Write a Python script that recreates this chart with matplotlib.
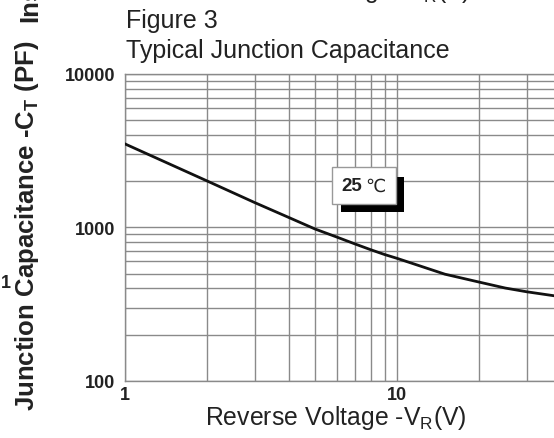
import matplotlib
matplotlib.use("Agg")
import matplotlib.pyplot as plt
import matplotlib.patches as mpatches
from matplotlib.ticker import FixedLocator, NullFormatter

plt.rcParams["font.family"] = ["Liberation Sans", "DejaVu Sans"]

# data
voltage = [1, 2, 3, 4, 5, 6, 7, 8, 9, 10, 15, 20, 25, 30, 37.8]
capacitance = [3500, 2010, 1450, 1160, 975, 865, 780, 715, 665, 628, 495, 440, 402, 380, 358]

x_ticks = [1, 10]
x_tick_labels = ["1", "10"]
y_ticks = [100, 1000, 10000]
y_tick_labels = ["100", "1000", "10000"]

W, H = 554, 439
fig = plt.figure(figsize=(W / 100, H / 100), dpi=100)


def fx(px):
    return px / W


def fy(py):
    return 1 - py / H


ax = fig.add_axes([fx(125), fy(381.7), 1 - fx(125), fy(75) - fy(381.7)])
ax.set_xscale("log")
ax.set_yscale("log")
ax.set_xlim(1, 10 ** ((W - 125) / 272))
ax.set_ylim(100, 10000)

ax.plot(voltage, capacitance, color="#111111", linewidth=2.0, zorder=3)

ax.grid(True, which="both", color="#8a8a8a", linewidth=1.0)
ax.xaxis.set_major_locator(FixedLocator(x_ticks))
ax.yaxis.set_major_locator(FixedLocator(y_ticks))
ax.set_xticklabels(x_tick_labels)
ax.set_yticklabels(y_tick_labels)
ax.xaxis.set_minor_formatter(NullFormatter())
ax.yaxis.set_minor_formatter(NullFormatter())
ax.tick_params(which="both", length=0)
ax.tick_params(axis="y", pad=7, labelsize=13, colors="#222222")
ax.tick_params(axis="x", pad=4, labelsize=13, colors="#222222")
for lab in ax.get_xticklabels() + ax.get_yticklabels():
    lab.set_fontweight("bold")
for side, sp in ax.spines.items():
    sp.set_color("#8a8a8a")
    sp.set_linewidth(1.0)
ax.spines["right"].set_visible(False)

# titles
fig.text(fx(126), fy(28), "Figure 3", fontsize=18, color="#222222", ha="left", va="baseline")
fig.text(fx(126), fy(58), "Typical Junction Capacitance", fontsize=18, color="#222222",
         ha="left", va="baseline")

# axis labels
fig.text(fx(335.5), fy(425), "Reverse Voltage -V$_\\mathregular{R}$(V)", fontsize=17.8,
         color="#222222", ha="center", va="baseline")
fig.text(fx(27), fy(226), "Junction Capacitance -C$_\\mathregular{T}$ (PF)", fontsize=18.5,
         fontweight="bold", color="#222222", rotation=90, ha="center", va="center")

# remnants of the neighbouring figure cropped at the edges
fig.text(fx(340), fy(-2), "Reverse Voltage -V$_\\mathregular{R}$(V)", fontsize=17.8,
         color="#222222", ha="center", va="baseline")
fig.text(fx(30.5), fy(22), "Instantaneous", fontsize=18.5, fontweight="bold", color="#222222",
         rotation=90, rotation_mode="anchor", ha="left", va="center")
fig.text(fx(6), fy(284), "1", fontsize=13, fontweight="bold", color="#222222",
         ha="center", va="center")

# 25 degC label with drop shadow
shadow = mpatches.Rectangle((fx(341), fy(213)), fx(404) - fx(341), fy(178) - fy(213),
                            transform=fig.transFigure, facecolor="black", edgecolor="none",
                            zorder=5)
box = mpatches.Rectangle((fx(332), fy(205)), fx(396) - fx(332), fy(168) - fy(205),
                         transform=fig.transFigure, facecolor="white", edgecolor="#999999",
                         linewidth=1.0, zorder=6)
fig.patches.extend([shadow, box])
fig.text(fx(352), fy(187), "25", fontsize=13.5, fontweight="bold", color="#222222",
         ha="center", va="center", zorder=7)
fig.text(fx(375), fy(187), "\u2103", fontsize=13, color="#222222",
         family=["DejaVu Sans"], ha="center", va="center", zorder=7)

fig.savefig("out.png", dpi=100, facecolor="white")
